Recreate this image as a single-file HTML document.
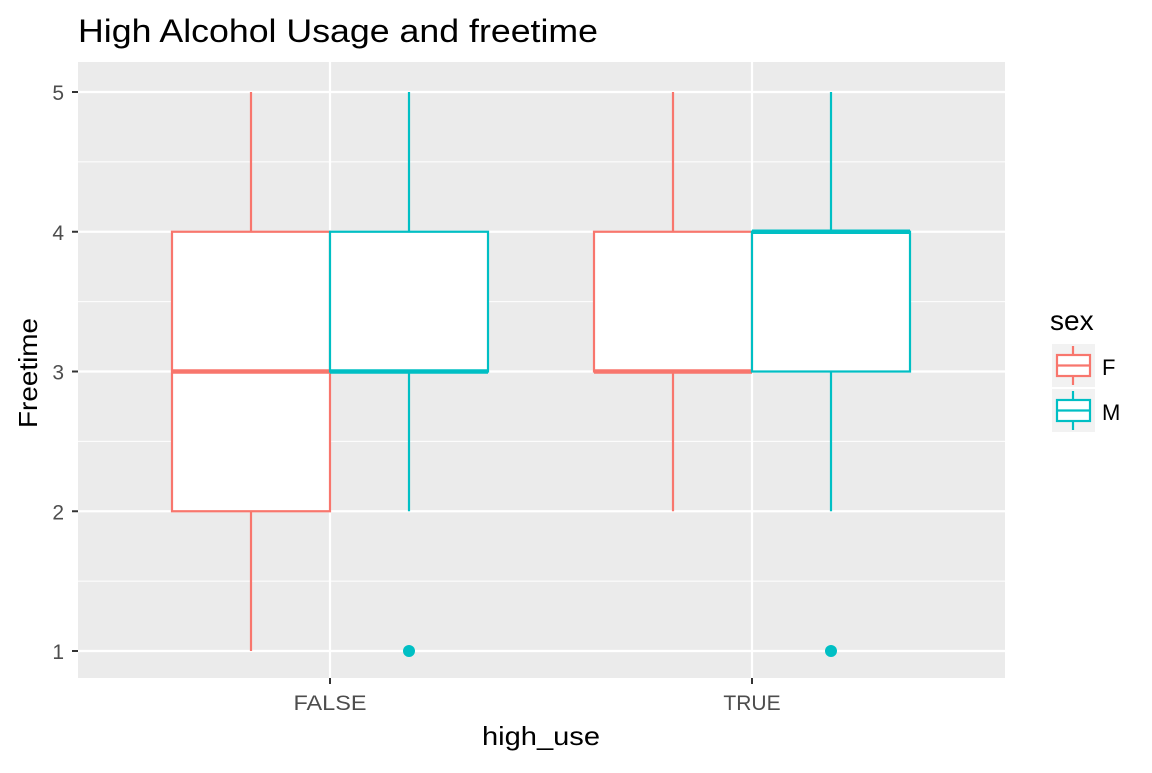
<!DOCTYPE html>
<html><head><meta charset="utf-8"><style>
body{margin:0;background:#fff;font-family:"Liberation Sans",sans-serif;}
</style></head><body>
<svg id="c" width="1152" height="768" xmlns="http://www.w3.org/2000/svg">
<text x="78" y="42" font-size="32" textLength="520" lengthAdjust="spacingAndGlyphs" fill="#000">High Alcohol Usage and freetime</text>
<rect x="78" y="62" width="927" height="616" fill="#EBEBEB"/>
<g id="grid"></g><g id="boxes"></g><g id="axes"></g>
<text x="541" y="745" font-size="26" text-anchor="middle" textLength="118" lengthAdjust="spacingAndGlyphs">high_use</text>
<text transform="translate(37,373) rotate(-90)" font-size="26" text-anchor="middle" textLength="110" lengthAdjust="spacingAndGlyphs">Freetime</text>
<g>
<text x="1050" y="330" font-size="28">sex</text>
<g id="leg"></g>
</g>
</svg>
<script>
const categories=["FALSE","TRUE"];
const groups=["F","M"];
const colors=["#F8766D","#00BFC4"];
const yTicks=[1,2,3,4,5];
const mins=[[1,2],[2,2]];
const q1s=[[2,3],[3,3]];
const meds=[[3,3],[3,4]];
const q3s=[[4,4],[4,4]];
const maxs=[[5,5],[5,5]];
const outliers=[[[],[1]],[[],[1]]];
const NS="http://www.w3.org/2000/svg";
function y(v){return 651-(v-1)*139.75;}
function x(i){return 330+i*422;}
const bw=158;
function mk(p,t,a){const e=document.createElementNS(NS,t);for(const k in a)e.setAttribute(k,a[k]);p.appendChild(e);return e;}
const grid=document.getElementById('grid');
for(let v=1.5;v<5;v+=1){const l=mk(grid,'line',{x1:78,x2:1005,y1:y(v),y2:y(v),stroke:'#fff','stroke-width':1});

}
yTicks.forEach(v=>{const l=mk(grid,'line',{x1:78,x2:1005,y1:y(v),y2:y(v),stroke:'#fff','stroke-width':2.2});

});
categories.forEach((c,i)=>{const l=mk(grid,'line',{x1:x(i),x2:x(i),y1:62,y2:678,stroke:'#fff','stroke-width':2.2});

});
const bx=document.getElementById('boxes');
categories.forEach((c,i)=>{groups.forEach((g,j)=>{
const col=colors[j];const cx=x(i)+(j===0?-bw/2:bw/2);const L=cx-bw/2;
const grp=mk(bx,'g',{});


mk(grp,'line',{x1:cx,x2:cx,y1:y(maxs[i][j]),y2:y(q3s[i][j]),stroke:col,'stroke-width':2.2});
mk(grp,'line',{x1:cx,x2:cx,y1:y(q1s[i][j]),y2:y(mins[i][j]),stroke:col,'stroke-width':2.2});
mk(grp,'rect',{x:L,y:y(q3s[i][j]),width:bw,height:y(q1s[i][j])-y(q3s[i][j]),fill:'#fff',stroke:col,'stroke-width':2.2});
mk(grp,'line',{x1:L,x2:L+bw,y1:y(meds[i][j]),y2:y(meds[i][j]),stroke:col,'stroke-width':4.5});
outliers[i][j].forEach(o=>{const p=mk(grp,'circle',{cx:cx,cy:y(o),r:6,fill:col});

});
});});
const ax=document.getElementById('axes');
yTicks.forEach(v=>{mk(ax,'line',{x1:72,x2:78,y1:y(v),y2:y(v),stroke:'#333','stroke-width':2});
const t=mk(ax,'text',{x:64,y:y(v)+8,'font-size':21,'text-anchor':'end',fill:'#4D4D4D'});t.textContent=v;

});
categories.forEach((c,i)=>{mk(ax,'line',{x1:x(i),x2:x(i),y1:678,y2:684,stroke:'#333','stroke-width':2});
const t=mk(ax,'text',{x:x(i),y:710,'font-size':21,'text-anchor':'middle',fill:'#4D4D4D'});t.textContent=c;
if(c==="FALSE"){t.setAttribute('textLength',73);t.setAttribute('lengthAdjust','spacingAndGlyphs');}

});
const leg=document.getElementById('leg');
groups.forEach((g,j)=>{const y0=344+j*45;const col=colors[j];
const e=mk(leg,'g',{});


mk(e,'rect',{x:1052,y:y0,width:43,height:43,fill:'#F2F2F2'});
mk(e,'line',{x1:1073,x2:1073,y1:y0+2,y2:y0+41,stroke:col,'stroke-width':2.2});
mk(e,'rect',{x:1057,y:y0+11,width:33,height:21,fill:'#fff',stroke:col,'stroke-width':2.2});
mk(e,'line',{x1:1057,x2:1090,y1:y0+21.5,y2:y0+21.5,stroke:col,'stroke-width':2.2});
const t=mk(e,'text',{x:1102,y:y0+31,'font-size':22});t.textContent=g;});
</script>
</body></html>
